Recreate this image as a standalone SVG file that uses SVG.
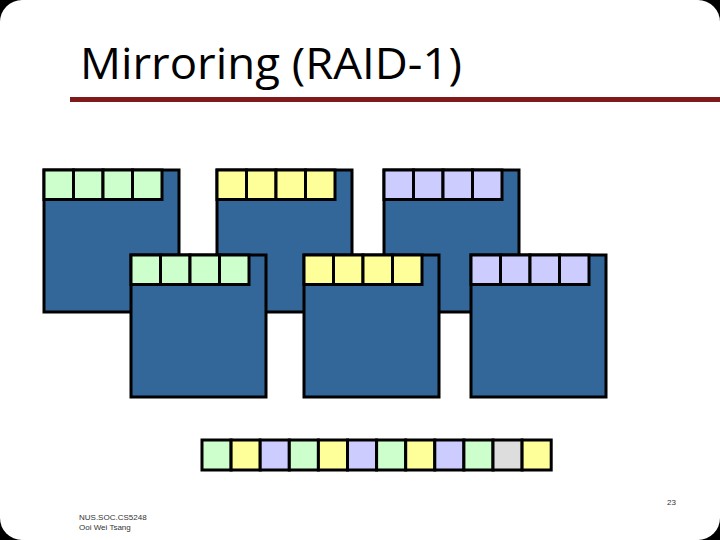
<svg xmlns="http://www.w3.org/2000/svg" width="720" height="540" viewBox="0 0 720 540">
<style>
.disk{fill:#336699;stroke:#000;stroke-width:3}
.c{stroke:#000;stroke-width:3}
.g{fill:#CCFFCC}.y{fill:#FFFF99}.p{fill:#CCCCFF}.n{fill:#DDDDDD}
.title{font-family:"Open Sans","DejaVu Sans",sans-serif;font-size:44px;fill:#000}
.foot{font-family:"Liberation Sans",Arial,sans-serif;font-size:8px;fill:#333}
</style>
<rect x="0" y="0" width="720" height="540" fill="#000"/>
<rect x="0" y="0" width="720" height="540" rx="22" ry="22" fill="#fff"/>
<text class="title" x="80" y="79" textLength="382" lengthAdjust="spacingAndGlyphs">Mirroring (RAID-1)</text>
<rect x="70" y="97" width="650" height="5" fill="#7F1A1A"/>
<g id="disk-back-green">
<rect class="disk" x="44" y="170" width="135" height="142"/>
<rect class="c g" x="44" y="170" width="29.5" height="29.5"/><rect class="c g" x="73.5" y="170" width="29.5" height="29.5"/><rect class="c g" x="103" y="170" width="29.5" height="29.5"/><rect class="c g" x="132.5" y="170" width="29.5" height="29.5"/>
</g>
<g id="disk-back-yellow">
<rect class="disk" x="217" y="170" width="135" height="142"/>
<rect class="c y" x="217" y="170" width="29.5" height="29.5"/><rect class="c y" x="246.5" y="170" width="29.5" height="29.5"/><rect class="c y" x="276" y="170" width="29.5" height="29.5"/><rect class="c y" x="305.5" y="170" width="29.5" height="29.5"/>
</g>
<g id="disk-back-purple">
<rect class="disk" x="384" y="170" width="135" height="142"/>
<rect class="c p" x="384" y="170" width="29.5" height="29.5"/><rect class="c p" x="413.5" y="170" width="29.5" height="29.5"/><rect class="c p" x="443" y="170" width="29.5" height="29.5"/><rect class="c p" x="472.5" y="170" width="29.5" height="29.5"/>
</g>
<g id="disk-front-green">
<rect class="disk" x="131" y="255" width="135" height="142"/>
<rect class="c g" x="131" y="255" width="29.5" height="29.5"/><rect class="c g" x="160.5" y="255" width="29.5" height="29.5"/><rect class="c g" x="190" y="255" width="29.5" height="29.5"/><rect class="c g" x="219.5" y="255" width="29.5" height="29.5"/>
</g>
<g id="disk-front-yellow">
<rect class="disk" x="304" y="255" width="135" height="142"/>
<rect class="c y" x="304" y="255" width="29.5" height="29.5"/><rect class="c y" x="333.5" y="255" width="29.5" height="29.5"/><rect class="c y" x="363" y="255" width="29.5" height="29.5"/><rect class="c y" x="392.5" y="255" width="29.5" height="29.5"/>
</g>
<g id="disk-front-purple">
<rect class="disk" x="471" y="255" width="135" height="142"/>
<rect class="c p" x="471" y="255" width="29.5" height="29.5"/><rect class="c p" x="500.5" y="255" width="29.5" height="29.5"/><rect class="c p" x="530" y="255" width="29.5" height="29.5"/><rect class="c p" x="559.5" y="255" width="29.5" height="29.5"/>
</g>
<g id="stripe">
<rect class="c g" x="202" y="440" width="29.1" height="30"/>
<rect class="c y" x="231.1" y="440" width="29.1" height="30"/>
<rect class="c p" x="260.2" y="440" width="29.1" height="30"/>
<rect class="c g" x="289.3" y="440" width="29.1" height="30"/>
<rect class="c y" x="318.4" y="440" width="29.1" height="30"/>
<rect class="c p" x="347.5" y="440" width="29.1" height="30"/>
<rect class="c g" x="376.6" y="440" width="29.1" height="30"/>
<rect class="c y" x="405.7" y="440" width="29.1" height="30"/>
<rect class="c p" x="434.8" y="440" width="29.1" height="30"/>
<rect class="c g" x="463.9" y="440" width="29.1" height="30"/>
<rect class="c n" x="493" y="440" width="29.1" height="30"/>
<rect class="c y" x="522.1" y="440" width="29.1" height="30"/>
</g>
<g id="connectors"></g>
<text class="foot" x="667" y="505" font-size="9">23</text>
<text class="foot" x="79" y="520">NUS.SOC.CS5248</text>
<text class="foot" x="79" y="530">Ooi Wei Tsang</text>
</svg>
